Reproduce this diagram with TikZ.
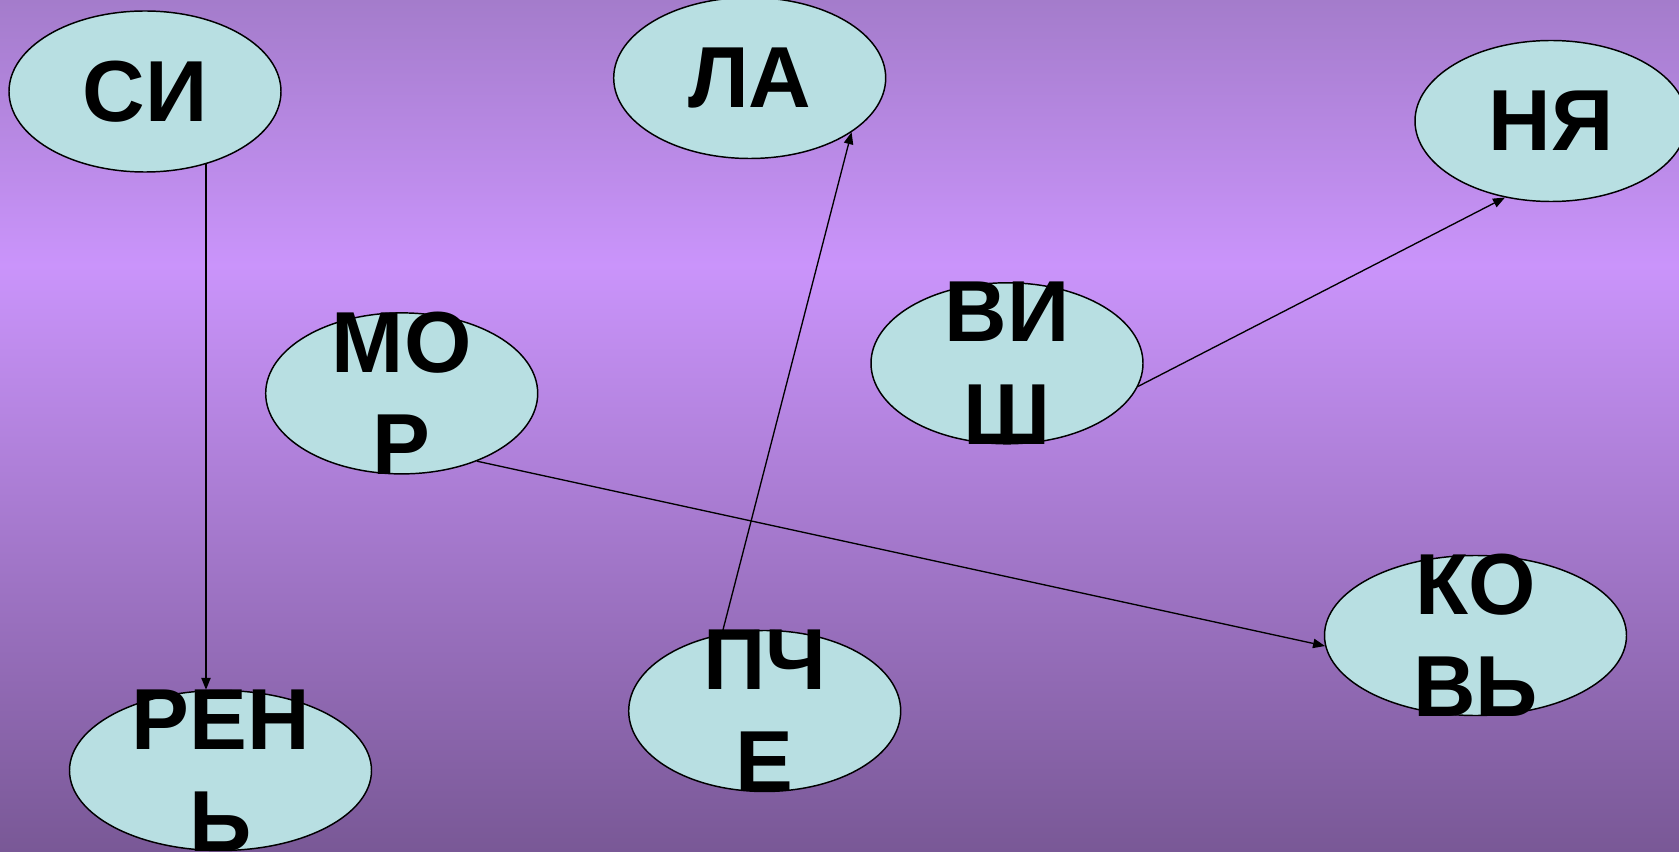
\documentclass[tikz,border=0pt]{standalone}
\usepackage{fontspec}
\setmainfont{Liberation Sans}
\usetikzlibrary{shapes.geometric,arrows.meta}
\definecolor{bgtop}{HTML}{A47CCB}
\definecolor{bgmid}{HTML}{CA94FB}
\definecolor{bgbot}{HTML}{795896}
\definecolor{ellfill}{HTML}{B8DFE2}
\begin{document}
\begin{tikzpicture}[x=0.75pt,y=-0.75pt,
  syl/.style={ellipse, draw=black, line width=1.1pt, fill=ellfill, inner sep=0pt, minimum width=204pt, minimum height=120.75pt},
  sylw/.style={syl, minimum width=226.5pt, minimum height=120pt},
  word/.style={font=\fontsize{65pt}{76.7pt}\selectfont\bfseries, align=center, inner sep=0pt},
  arr/.style={draw=black, line width=1pt, -{Triangle[length=9pt,width=7pt]}}]
\useasboundingbox (0,0) rectangle (1679,852);
\shade[top color=bgtop, bottom color=bgmid] (0,0) rectangle (1679,266);
\shade[top color=bgmid, bottom color=bgbot] (0,265) rectangle (1679,852);
% ellipses
\node[syl] (si) at (145,91.5) {};
\node[syl] (la) at (749.7,78) {};
\node[syl] (nya) at (1551,121) {};
\node[syl] (mor) at (401.7,393.4) {};
\node[syl] (vish) at (1007,363.3) {};
\node[syl] (pche) at (764.7,711) {};
\node[sylw] (kov) at (1475.5,635.5) {};
\node[sylw] (ren) at (220.5,770.5) {};
% connectors
\draw[arr] (si.-50) -- (si.-50 |- ren.north);
\draw[arr] (pche.119) -- (la.-28);
\draw[arr] (mor.-42.7) -- (kov.-176);
\draw[arr] (vish.-10.4) -- (nya.-121.5);
% words
\node[word] (si-t) at (si.center) {СИ};
\node[word] (la-t) at (la.center) {ЛА};
\node[word] (nya-t) at (nya.center) {НЯ};
\node[word] (mor-t) at (mor.center) {МО\\Р};
\node[word] (vish-t) at (vish.center) {ВИ\\Ш};
\node[word] (pche-t) at (pche.center) {ПЧ\\Е};
\node[word] (kov-t) at (kov.center) {КО\\ВЬ};
\node[word] (ren-t) at (ren.center) {РЕН\\Ь};
\end{tikzpicture}
\end{document}
